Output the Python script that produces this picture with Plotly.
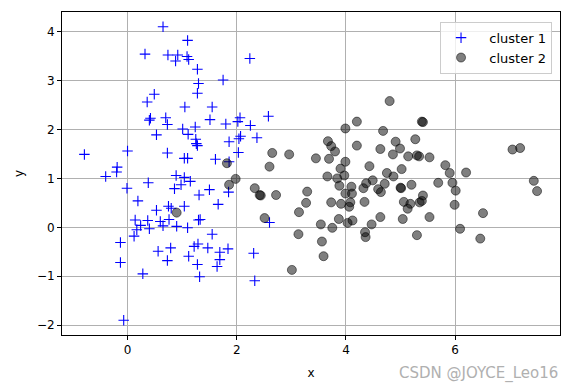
import plotly.graph_objects as go

c1_x = [0.65, 1.10, 0.32, 0.74, 0.92, 0.88, 1.09, 1.12, 2.24, 1.28, 1.75, 1.30, 1.28, 0.49, 0.36,
        1.05, 1.55, 2.58, 0.42, 0.40, 0.70, 0.73, 1.51, 1.80, 2.06, 2.02, 2.25, 1.24, 1.01, 0.53,
        1.11, 1.25, 1.26, 1.28, 1.86, 2.07, 2.04, 2.37, 2.03, 0.73, 1.61, 1.04, 1.10, -0.79, 0.00,
        -0.19, -0.20, -0.40, 0.38, 0.89, 1.04, 1.15, 0.98, 0.86, -0.01, 1.50, 1.85, 1.86, 1.31, 0.19,
        1.66, 0.53, 0.75, 0.80, 1.04, 0.14, 0.37, 0.60, 0.76, 0.65, 0.24, 0.90, 1.10, 1.30, 1.33,
        0.17, 0.40, 0.12, 1.55, 2.60, -0.13, 0.56, 0.79, 1.22, 1.29, 1.47, 1.69, 1.84, 2.31, 1.12,
        -0.13, 0.73, 1.69, 1.28, 1.64, 0.28, 1.32, 2.33, -0.07]
c1_y = [4.10, 3.82, 3.54, 3.52, 3.52, 3.40, 3.49, 3.43, 3.45, 3.23, 3.01, 2.94, 2.74, 2.72, 2.56,
        2.46, 2.46, 2.27, 2.23, 2.19, 2.24, 2.10, 2.20, 2.11, 2.24, 2.16, 2.08, 2.05, 2.01, 1.89,
        1.90, 1.80, 1.71, 1.67, 1.75, 1.86, 1.81, 1.83, 1.53, 1.52, 1.39, 1.41, 1.41, 1.49, 1.56,
        1.23, 1.13, 1.04, 0.91, 1.06, 1.02, 0.94, 0.87, 0.79, 0.80, 0.77, 0.72, 1.34, 0.66, 0.54,
        0.47, 0.35, 0.43, 0.39, 0.43, 0.15, 0.14, 0.12, 0.16, 0.03, 0.04, 0.02, -0.01, 0.15, 0.16,
        -0.05, -0.03, -0.18, -0.14, 0.10, -0.31, -0.49, -0.42, -0.39, -0.34, -0.42, -0.51, -0.44, -0.53, -0.59,
        -0.72, -0.68, -0.66, -0.76, -0.80, -0.95, -1.01, -1.09, -1.90]

c2_x = [4.80, 3.99, 4.20, 5.39, 5.41, 4.68, 5.27, 4.91, 4.99, 3.67, 3.73, 3.80, 4.20, 4.63, 2.65,
        2.96, 3.45, 3.69, 3.99, 4.86, 5.14, 5.30, 5.34, 5.53, 7.05, 7.19, 2.60, 1.82, 3.90, 4.43,
        5.02, 5.82, 5.90, 6.20, 3.66, 3.97, 3.84, 4.75, 4.87, 1.98, 4.49, 4.37, 5.69, 5.95, 7.44,
        1.86, 3.88, 4.10, 4.71, 5.20, 5.00, 5.01, 2.33, 4.32, 4.59, 4.64, 6.01, 7.50, 3.29, 3.99,
        4.11, 2.42, 2.44, 2.72, 5.41, 3.27, 3.73, 3.91, 4.08, 4.34, 5.06, 5.18, 5.35, 5.39, 5.99,
        4.06, 0.90, 3.14, 5.13, 6.51, 2.51, 3.87, 4.12, 4.63, 5.04, 5.53, 3.54, 4.03, 4.47, 3.75,
        6.09, 3.13, 4.35, 4.36, 5.30, 3.56, 6.46, 3.59, 3.01]
c2_y = [2.58, 2.02, 2.16, 2.16, 2.15, 1.97, 1.80, 1.75, 1.61, 1.76, 1.66, 1.55, 1.67, 1.60, 1.52,
        1.49, 1.41, 1.40, 1.34, 1.49, 1.45, 1.47, 1.45, 1.43, 1.59, 1.62, 1.24, 1.31, 1.20, 1.25,
        1.19, 1.27, 1.11, 1.12, 1.04, 1.06, 1.00, 1.11, 1.04, 0.99, 0.96, 0.90, 0.91, 0.91, 0.95,
        0.87, 0.85, 0.83, 0.89, 0.87, 0.81, 0.80, 0.80, 0.80, 0.78, 0.72, 0.75, 0.74, 0.73, 0.69,
        0.69, 0.66, 0.65, 0.66, 0.65, 0.50, 0.51, 0.48, 0.51, 0.52, 0.52, 0.48, 0.51, 0.54, 0.46,
        0.42, 0.30, 0.31, 0.38, 0.29, 0.19, 0.17, 0.14, 0.21, 0.17, 0.21, 0.06, 0.09, 0.06, -0.01,
        -0.03, -0.14, -0.10, -0.20, -0.16, -0.29, -0.23, -0.59, -0.87]

x_ticks = [0, 2, 4, 6]
y_ticks = [-2, -1, 0, 1, 2, 3, 4]

FONT = "DejaVu Sans"

fig = go.Figure()
fig.add_trace(go.Scatter(
    x=c1_x, y=c1_y, mode="markers", name="  cluster 1",
    marker=dict(symbol="cross-thin", size=7.5, color="blue",
                line=dict(color="blue", width=1.1)),
))
fig.add_trace(go.Scatter(
    x=c2_x, y=c2_y, mode="markers", name="  cluster 2",
    marker=dict(symbol="circle", size=9, color="rgba(0,0,0,0.5)",
                line=dict(color="rgba(0,0,0,0.5)", width=1)),
))

axis_common = dict(
    showgrid=True, gridcolor="#b0b0b0", gridwidth=1,
    zeroline=False, showline=True, linecolor="black", linewidth=1, mirror=True,
    ticks="outside", ticklen=4, tickcolor="black", tickwidth=1,
    tickfont=dict(family=FONT, size=12, color="black"),
)

fig.update_layout(
    width=572, height=392,
    margin=dict(l=62, r=12, t=12, b=57),
    paper_bgcolor="white", plot_bgcolor="white",
    font=dict(family=FONT, size=12, color="black"),
    xaxis=dict(range=[-1.2, 7.92], tickvals=x_ticks, ticktext=[str(v) for v in x_ticks],
               title=dict(text="x", font=dict(family=FONT, size=12), standoff=12),
               **axis_common),
    yaxis=dict(range=[-2.2, 4.4], tickvals=y_ticks,
               ticktext=[("\u2212" + str(-v)) if v < 0 else str(v) for v in y_ticks],
               title=dict(text="y", font=dict(family=FONT, size=12), standoff=10),
               **axis_common),
    legend=dict(x=0.984, y=0.97, xanchor="right", yanchor="top",
                bgcolor="rgba(255,255,255,0.8)", bordercolor="#cccccc", borderwidth=1,
                font=dict(family=FONT, size=13, color="black"),
                itemwidth=30),
    showlegend=True,
)

fig.add_annotation(text="CSDN @JOYCE_Leo16", xref="paper", yref="paper",
                   x=1.0, y=-0.12, xanchor="right", yanchor="middle", showarrow=False,
                   font=dict(family=FONT, size=15, color="#b0b0b0"))

fig.write_html("out.html")
